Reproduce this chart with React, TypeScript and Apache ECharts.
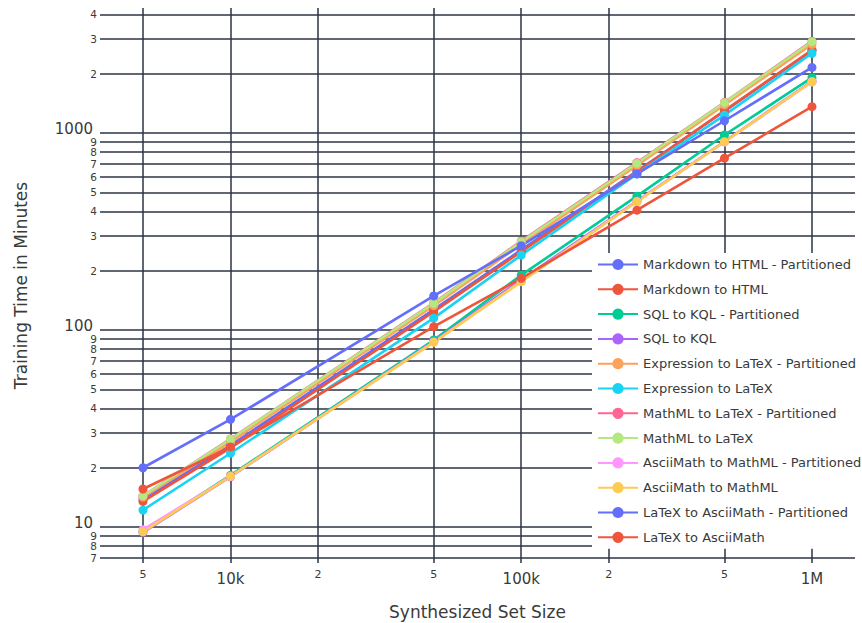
import React, { useEffect, useRef } from "react";
import * as echarts from "echarts";

const setSizes = [5000, 10000, 50000, 100000, 250000, 500000, 1000000];

const seriesNames = [
  "Markdown to HTML - Partitioned",
  "Markdown to HTML",
  "SQL to KQL - Partitioned",
  "SQL to KQL",
  "Expression to LaTeX - Partitioned",
  "Expression to LaTeX",
  "MathML to LaTeX - Partitioned",
  "MathML to LaTeX",
  "AsciiMath to MathML - Partitioned",
  "AsciiMath to MathML",
  "LaTeX to AsciiMath - Partitioned",
  "LaTeX to AsciiMath",
];

const seriesColors = [
  "#636efa", "#EF553B", "#00cc96", "#ab63fa", "#FFA15A", "#19d3f3",
  "#FF6692", "#B6E880", "#FF97FF", "#FECB52", "#636efa", "#EF553B",
];

const markdownHtmlPart = [13.8, 26, 127, 255, 640, 1290, 2620];
const markdownHtml = [13.5, 25.2, 124, 250, 636, 1298, 2636];
const sqlKqlPart = [9.5, 18.3, 89, 190, 478, 977, 1910];
const sqlKql = [9.4, 18.0, 87.5, 180, 452, 905, 1830];
const exprLatexPart = [14.2, 27, 133, 272, 685, 1390, 2820];
const exprLatex = [12.2, 23.7, 115, 240, 620, 1233, 2540];
const mathmlLatexPart = [14.4, 28, 137.5, 283, 708, 1432, 2925];
const mathmlLatex = [14.4, 27.9, 136.6, 280.6, 702, 1426, 2907];
const asciiMathmlPart = [9.7, 18.1, 87, 177, 450, 900, 1820];
const asciiMathml = [9.46, 18.1, 86.6, 176, 448, 903, 1820];
const latexAsciiPart = [20, 35.2, 149, 268, 620, 1154, 2153];
const latexAscii = [15.6, 25.5, 104, 183, 406, 745, 1360];

const seriesValues = [
  markdownHtmlPart, markdownHtml, sqlKqlPart, sqlKql, exprLatexPart, exprLatex,
  mathmlLatexPart, mathmlLatex, asciiMathmlPart, asciiMathml, latexAsciiPart, latexAscii,
];

const xTickValues = [5000, 10000, 20000, 50000, 100000, 200000, 500000, 1000000];
const xTickLabels = ["5", "10k", "2", "5", "100k", "2", "5", "1M"];

const yTickValues = [
  7, 8, 9, 10, 20, 30, 40, 50, 60, 70, 80, 90, 100, 200, 300, 400, 500, 600, 700, 800, 900,
  1000, 2000, 3000, 4000,
];
const yTickLabels = [
  "7", "8", "9", "10", "2", "3", "4", "5", "6", "7", "8", "9", "100", "2", "3", "4", "5", "6",
  "7", "8", "9", "1000", "2", "3", "4",
];

const FONT = 'Verdana, "DejaVu Sans", sans-serif';
const TEXT = "#3a3a3a";
const GRID = "#2b3545";

function makeFormatter(values: number[], labels: string[]) {
  return (val: number) => {
    let best = 0;
    let bestD = Infinity;
    for (let i = 0; i < values.length; i++) {
      const d = Math.abs(Math.log(val) - Math.log(values[i]));
      if (d < bestD) {
        bestD = d;
        best = i;
      }
    }
    const lab = labels[best];
    return lab.length > 1 ? `{maj|${lab}}` : `{mn|${lab}}`;
  };
}

export default function App() {
  const ref = useRef<HTMLDivElement>(null);
  useEffect(() => {
    if (!ref.current) return;
    const chart = echarts.init(ref.current, null, { renderer: "svg" });
    chart.setOption({
      animation: false,
      backgroundColor: "#fff",
      textStyle: { fontFamily: FONT },
      grid: {
        left: 100,
        right: 7,
        top: 8,
        bottom: 60,
        containLabel: false,
        outerBoundsMode: "none",
      },
      legend: {
        orient: "vertical",
        left: 592,
        top: 253,
        itemWidth: 40,
        itemHeight: 14,
        itemGap: 11.8,
        backgroundColor: "#fff",
        padding: [5, 10, 5, 5],
        textStyle: { fontSize: 13, color: TEXT, fontFamily: FONT },
        data: seriesNames,
      },
      xAxis: {
        type: "log",
        logBase: 10,
        min: 3557,
        max: 1406000,
        name: "Synthesized Set Size",
        nameLocation: "middle",
        nameGap: 40,
        nameTextStyle: { fontSize: 17, color: TEXT, fontFamily: FONT },
        axisLine: { show: false },
        axisTick: { show: false, customValues: xTickValues },
        axisLabel: {
          customValues: xTickValues,
          formatter: makeFormatter(xTickValues, xTickLabels),
          margin: 6,
          color: TEXT,
          fontFamily: FONT,
          rich: {
            maj: { fontSize: 15, color: TEXT, fontFamily: FONT, padding: [2, 0, 0, 0] },
            mn: { fontSize: 11, color: TEXT, fontFamily: FONT },
          },
        },
        splitLine: { show: true, lineStyle: { color: GRID, width: 1.5 } },
      },
      yAxis: {
        type: "log",
        logBase: 10,
        min: 6.57,
        max: 4310,
        name: "Training Time in Minutes",
        nameLocation: "middle",
        nameGap: 71,
        nameTextStyle: { fontSize: 17, color: TEXT, fontFamily: FONT },
        axisLine: { show: false },
        axisTick: { show: false, customValues: yTickValues },
        axisLabel: {
          customValues: yTickValues,
          formatter: makeFormatter(yTickValues, yTickLabels),
          margin: 3,
          color: TEXT,
          fontFamily: FONT,
          rich: {
            maj: { fontSize: 15, color: TEXT, fontFamily: FONT, padding: [0, 4, 8, 0] },
            mn: { fontSize: 10.5, color: TEXT, fontFamily: FONT },
          },
        },
        splitLine: { show: true, lineStyle: { color: GRID, width: 1.5 } },
      },
      series: seriesNames.map((name, i) => ({
        name,
        type: "line",
        data: setSizes.map((x, j) => [x, seriesValues[i][j]]),
        symbol: "circle",
        symbolSize: 9,
        showSymbol: true,
        color: seriesColors[i],
        lineStyle: { width: 2.6, color: seriesColors[i] },
        itemStyle: { color: seriesColors[i] },
      })),
    });
    return () => chart.dispose();
  }, []);
  return (
    <div
      ref={ref}
      style={{ position: "fixed", left: 0, top: 0, width: 862, height: 623 }}
    />
  );
}
